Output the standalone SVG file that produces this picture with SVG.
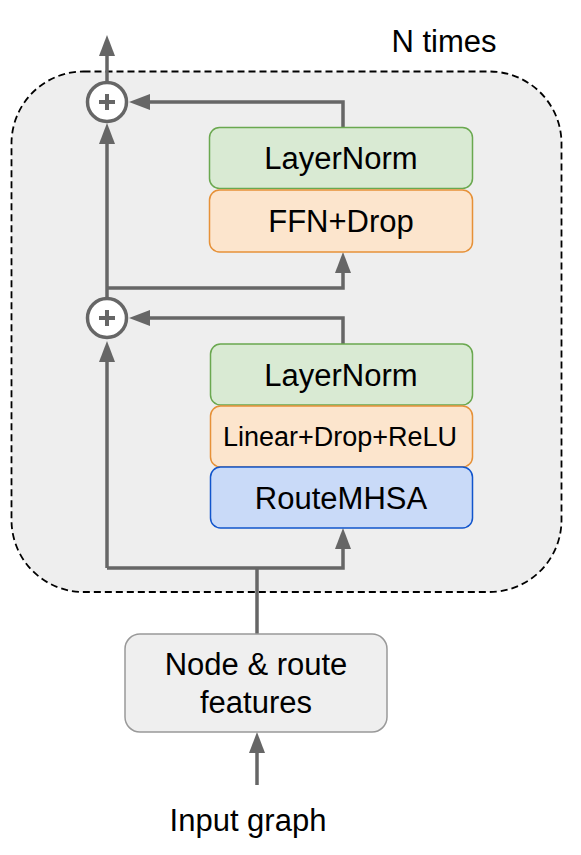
<svg xmlns="http://www.w3.org/2000/svg" width="581" height="855" viewBox="0 0 581 855">
<style>
text{font-family:"Liberation Sans",Arial,sans-serif;fill:#000;text-anchor:middle}
.big{font-size:31px}
.mid{font-size:27px}
.conn{fill:none;stroke:#666;stroke-width:3.5;stroke-linejoin:miter}
.plus{fill:#fff;stroke:#666;stroke-width:3.5}
.ln{fill:#d9ead3;stroke:#6aa84f;stroke-width:1.5}
.ffn{fill:#fce5cd;stroke:#e69138;stroke-width:1.5}
.mh{fill:#c9daf8;stroke:#1155cc;stroke-width:1.5}
</style>
<defs>
<marker id="ah" markerUnits="userSpaceOnUse" markerWidth="22" markerHeight="17" refX="11" refY="8" orient="auto" viewBox="0 0 22 16">
<path d="M0,0 L21,8 L0,16 z" fill="#666"/>
</marker>
</defs>
<g id="container">
<rect x="11.5" y="71.5" width="550" height="520.5" rx="72" ry="72" fill="#eeeeee" stroke="#000" stroke-width="1.8" stroke-dasharray="7,4"/>
<text class="big" x="444" y="52">N times</text>
</g>
<g id="connectors">
<path class="conn" d="M257,785 L257,742" marker-end="url(#ah)"/>
<path class="conn" d="M257,634 L257,568"/>
<path class="conn" d="M107,568 L343,568 L343,538" marker-end="url(#ah)"/>
<path class="conn" d="M107,568 L107,351" marker-end="url(#ah)"/>
<path class="conn" d="M343,344 L343,318 L139,318" marker-end="url(#ah)"/>
<path class="conn" d="M107,298 L107,133" marker-end="url(#ah)"/>
<path class="conn" d="M107,288 L343,288 L343,262" marker-end="url(#ah)"/>
<path class="conn" d="M343,127 L343,102 L139,102" marker-end="url(#ah)"/>
<path class="conn" d="M107,82 L107,45" marker-end="url(#ah)"/>
</g>
<g id="add1">
<circle class="plus" cx="107" cy="102" r="19.5"/>
<path d="M99,102 H115 M107,94 V110" stroke="#666" stroke-width="4"/>
</g>
<g id="add2">
<circle class="plus" cx="107" cy="318" r="19.5"/>
<path d="M99,318 H115 M107,310 V326" stroke="#666" stroke-width="4"/>
</g>
<g id="layernorm1">
<rect class="ln" x="209.5" y="127.5" width="263" height="61" rx="10"/>
<text class="big" x="341" y="169">LayerNorm</text>
</g>
<g id="ffn">
<rect class="ffn" x="209.5" y="190" width="263" height="62" rx="10"/>
<text class="big" x="341" y="232">FFN+Drop</text>
</g>
<g id="layernorm2">
<rect class="ln" x="210.5" y="344" width="262" height="61" rx="10"/>
<text class="big" x="341" y="386">LayerNorm</text>
</g>
<g id="linear">
<rect class="ffn" x="210.5" y="406" width="262" height="61" rx="10"/>
<text class="mid" x="340" y="446">Linear+Drop+ReLU</text>
</g>
<g id="routemhsa">
<rect class="mh" x="210.5" y="467" width="262" height="61" rx="10"/>
<text class="big" x="341" y="509">RouteMHSA</text>
</g>
<g id="features">
<rect x="125" y="634" width="262" height="98" rx="15" fill="#efefef" stroke="#999" stroke-width="1.5"/>
<text class="big" x="256" y="675">Node &amp; route</text>
<text class="big" x="256" y="713">features</text>
</g>
<g id="input">
<text class="big" x="248" y="831">Input graph</text>
</g>
</svg>
